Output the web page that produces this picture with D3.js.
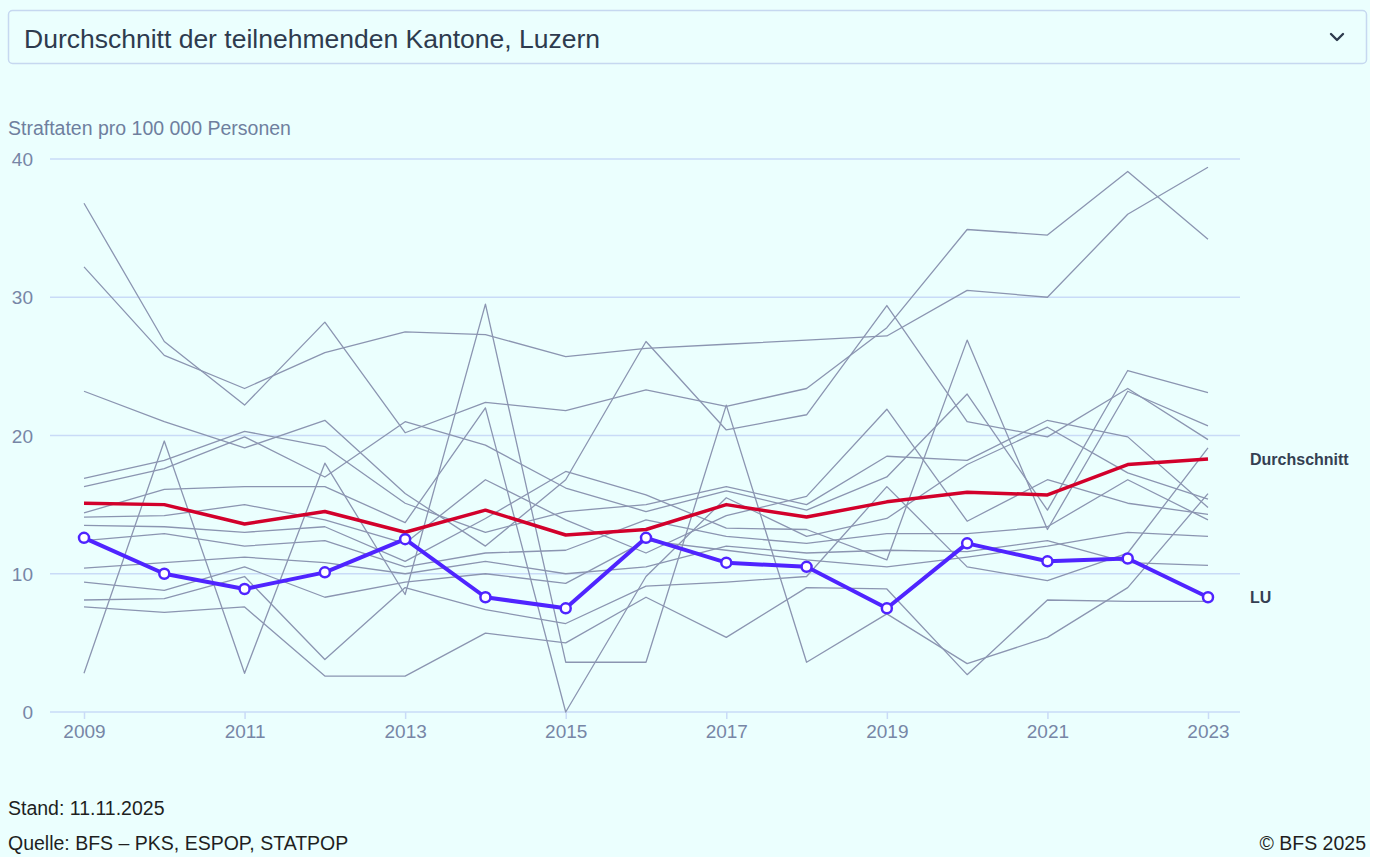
<!DOCTYPE html>
<html lang="de">
<head>
<meta charset="utf-8">
<title>Straftaten pro 100 000 Personen</title>
<script src="https://cdn.jsdelivr.net/npm/d3@7"></script>
<style>
    html, body { margin: 0; padding: 0; background: #ffffff; }
    #chart { width: 1370px; height: 857px; overflow: hidden; background: #ebfffe; }
    text { font-family: "Liberation Sans", Arial, sans-serif; }
</style>
</head>
<body>
<div id="chart"></div>
<script>
// Jahre
const years = [2009, 2010, 2011, 2012, 2013, 2014, 2015, 2016, 2017, 2018, 2019, 2020, 2021, 2022, 2023];
const xTickYears = [2009, 2011, 2013, 2015, 2017, 2019, 2021, 2023];
const yTicks = [0, 10, 20, 30, 40];

// Luzern und Durchschnitt
const luValues = [12.6, 10.0, 8.9, 10.1, 12.5, 8.3, 7.5, 12.6, 10.8, 10.5, 7.5, 12.2, 10.9, 11.1, 8.3];
const avgValues = [15.1, 15.0, 13.6, 14.5, 13.0, 14.6, 12.8, 13.2, 15.0, 14.1, 15.2, 15.9, 15.7, 17.9, 18.3];

// übrige Kantone (grau, ohne Beschriftung)
const canton01 = [36.8, 26.8, 22.2, 28.2, 20.2, 22.4, 21.8, 23.3, 22.1, 23.4, 27.8, 34.9, 34.5, 39.1, 34.2];
const canton02 = [32.2, 25.8, 23.4, 26.0, 27.5, 27.3, 25.7, 26.3, 26.6, 26.9, 27.2, 30.5, 30.0, 36.0, 39.4];
const canton03 = [2.8, 19.6, 2.8, 18.0, 8.5, 29.5, 3.6, 3.6, 22.2, 3.6, 7.1, 3.5, 5.4, 9.0, 15.8];
const canton04 = [23.2, 21.0, 19.1, 21.1, 15.8, 12.0, 16.8, 26.8, 20.4, 21.5, 29.4, 21.0, 19.9, 23.4, 19.7];
const canton05 = [16.9, 18.2, 20.3, 19.2, 15.1, 13.0, 14.5, 15.0, 16.3, 15.0, 18.5, 18.2, 21.1, 19.9, 14.8];
const canton06 = [16.3, 17.6, 19.9, 17.0, 21.0, 19.3, 16.2, 14.5, 16.0, 14.6, 17.0, 23.0, 14.6, 24.7, 23.1];
const canton07 = [14.4, 16.1, 16.3, 16.3, 13.7, 22.0, 0.0, 9.8, 15.5, 12.7, 14.0, 17.9, 20.6, 17.3, 15.4];
const canton08 = [14.1, 14.2, 15.0, 13.9, 12.2, 16.8, 13.9, 11.5, 14.2, 15.6, 21.9, 13.8, 16.8, 15.1, 14.3];
const canton09 = [13.5, 13.4, 13.0, 13.4, 10.9, 14.0, 17.4, 15.7, 13.3, 13.2, 11.0, 26.9, 13.2, 23.2, 20.7];
const canton10 = [12.4, 12.9, 12.0, 12.4, 10.5, 11.5, 11.7, 13.9, 12.7, 12.2, 12.9, 12.9, 13.4, 16.8, 13.9];
const canton11 = [10.4, 10.8, 11.2, 10.8, 10.0, 10.9, 10.0, 10.5, 12.0, 11.5, 11.7, 11.6, 12.4, 10.8, 10.6];
const canton12 = [9.4, 8.8, 10.5, 8.3, 9.4, 10.0, 9.3, 12.4, 11.7, 11.0, 10.5, 11.2, 12.0, 13.0, 12.7];
const canton13 = [8.1, 8.2, 9.8, 3.8, 9.0, 7.4, 6.4, 9.1, 9.4, 9.8, 16.3, 10.5, 9.5, 11.5, 19.1];
const canton14 = [7.6, 7.2, 7.6, 2.6, 2.6, 5.7, 5.0, 8.3, 5.4, 9.0, 8.9, 2.7, 8.1, 8.0, 8.0];
const otherCantons = [canton01, canton02, canton03, canton04, canton05, canton06, canton07,
    canton08, canton09, canton10, canton11, canton12, canton13, canton14];

// Texte
const selectText = "Durchschnitt der teilnehmenden Kantone, Luzern";
const yAxisTitle = "Straftaten pro 100 000 Personen";
const avgLabel = "Durchschnitt";
const luLabel = "LU";
const standText = "Stand: 11.11.2025";
const sourceText = "Quelle: BFS \u2013 PKS, ESPOP, STATPOP";
const copyrightText = "\u00a9 BFS 2025";

const width = 1370, height = 857;
const plot = { left: 50, right: 1240, top: 159, bottom: 712 };

const svg = d3.select("#chart").append("svg")
    .attr("width", width)
    .attr("height", height);

// Auswahlfeld oben
svg.append("rect")
    .attr("x", 8.5).attr("y", 10.5)
    .attr("width", 1358).attr("height", 53)
    .attr("rx", 4)
    .attr("fill", "#ebfffe")
    .attr("stroke", "#c6d8f0")
    .attr("stroke-width", 1.5);
svg.append("text")
    .attr("x", 24).attr("y", 48)
    .attr("font-size", "26.5px")
    .attr("fill", "#2e3b4e")
    .text(selectText);
svg.append("path")
    .attr("d", "M1331,34 L1337,40 L1343,34")
    .attr("fill", "none")
    .attr("stroke", "#2e3b4e")
    .attr("stroke-width", 2.4)
    .attr("stroke-linecap", "round")
    .attr("stroke-linejoin", "round");

// Skalen
const x = d3.scaleLinear().domain([2009, 2023]).range([84, 1208]);
const y = d3.scaleLinear().domain([0, 40]).range([plot.bottom, plot.top]);

// Y-Achsentitel
svg.append("text")
    .attr("x", 8).attr("y", 135)
    .attr("font-size", "19.5px")
    .attr("fill", "#6f7f9e")
    .text(yAxisTitle);

// Gitterlinien
svg.append("g")
    .selectAll("line")
    .data(yTicks)
    .join("line")
    .attr("x1", plot.left).attr("x2", plot.right)
    .attr("y1", d => y(d)).attr("y2", d => y(d))
    .attr("stroke", "#c9dbf7")
    .attr("stroke-width", 1.5);

// Y-Achse
const yAxis = svg.append("g")
    .attr("transform", `translate(${plot.left - 17},0)`)
    .call(d3.axisLeft(y).tickValues(yTicks).tickSize(0).tickPadding(0));
yAxis.select(".domain").remove();
yAxis.selectAll("text")
    .attr("font-family", "Liberation Sans, Arial, sans-serif")
    .attr("font-size", "19px")
    .attr("fill", "#7786a6")
    .attr("dy", "0.35em");

// X-Achse
const xAxis = svg.append("g")
    .attr("transform", `translate(0,${plot.bottom})`)
    .call(d3.axisBottom(x).tickValues(xTickYears).tickFormat(d3.format("d")).tickSize(7).tickPadding(6));
xAxis.select(".domain").remove();
xAxis.selectAll("line").attr("stroke", "#c9dbf7").attr("stroke-width", 1.5);
xAxis.selectAll("text")
    .attr("font-family", "Liberation Sans, Arial, sans-serif")
    .attr("font-size", "19px")
    .attr("fill", "#7786a6");

const line = d3.line()
    .x((d, i) => x(years[i]))
    .y(d => y(d));

// graue Kantone
svg.append("g")
    .selectAll("path")
    .data(otherCantons)
    .join("path")
    .attr("d", line)
    .attr("fill", "none")
    .attr("stroke", "#8b95b1")
    .attr("stroke-width", 1.3)
    .attr("stroke-linejoin", "round");

// Durchschnitt
svg.append("path")
    .datum(avgValues)
    .attr("d", line)
    .attr("fill", "none")
    .attr("stroke", "#d2002b")
    .attr("stroke-width", 3.5)
    .attr("stroke-linejoin", "round");

// Luzern
svg.append("path")
    .datum(luValues)
    .attr("d", line)
    .attr("fill", "none")
    .attr("stroke", "#4f24ff")
    .attr("stroke-width", 4)
    .attr("stroke-linejoin", "round");
svg.append("g")
    .selectAll("circle")
    .data(luValues)
    .join("circle")
    .attr("cx", (d, i) => x(years[i]))
    .attr("cy", d => y(d))
    .attr("r", 5)
    .attr("fill", "#ffffff")
    .attr("stroke", "#4f24ff")
    .attr("stroke-width", 2.5);

// Beschriftungen am Linienende
svg.append("text")
    .attr("x", 1250).attr("y", y(avgValues[avgValues.length - 1]) + 6)
    .attr("font-size", "16px").attr("font-weight", "bold")
    .attr("fill", "#353f52")
    .text(avgLabel);
svg.append("text")
    .attr("x", 1250).attr("y", y(luValues[luValues.length - 1]) + 6)
    .attr("font-size", "16px").attr("font-weight", "bold")
    .attr("fill", "#353f52")
    .text(luLabel);

// Fusszeile
svg.append("text")
    .attr("x", 8).attr("y", 815)
    .attr("font-size", "19.5px").attr("fill", "#1f1f1f")
    .text(standText);
svg.append("text")
    .attr("x", 8).attr("y", 850)
    .attr("font-size", "19.5px").attr("fill", "#1f1f1f")
    .text(sourceText);
svg.append("text")
    .attr("x", 1366).attr("y", 850)
    .attr("text-anchor", "end")
    .attr("font-size", "19.5px").attr("fill", "#1f1f1f")
    .text(copyrightText);
</script>
</body>
</html>
